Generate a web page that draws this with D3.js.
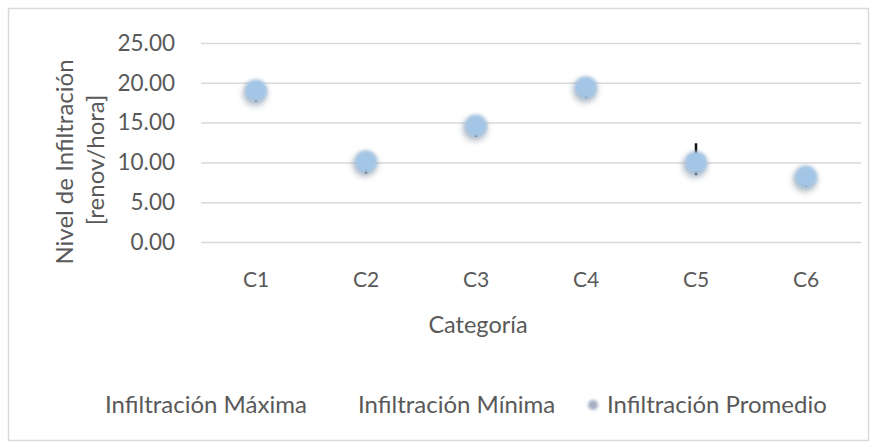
<!DOCTYPE html>
<html>
<head>
<meta charset="utf-8">
<script src="https://cdn.jsdelivr.net/npm/d3@7"></script>
<style>
  html, body { margin: 0; padding: 0; background: #fff; }
  svg { display: block; }
  text { font-family: Lato, "Open Sans", sans-serif; fill: #595959; }
</style>
</head>
<body>
<script>
// Infiltration levels per category: maximum, minimum and average (renov/hora)
const categories = ["C1", "C2", "C3", "C4", "C5", "C6"];
const maxValues  = [19.9, 10.9, 15.3, 20.3, 12.4, 8.9];
const minValues  = [17.6, 8.6, 13.2, 18.1, 8.4, 6.9];
const avgValues  = [19.0, 10.1, 14.6, 19.4, 10.0, 8.2];
const yTicks     = [0, 5, 10, 15, 20, 25];
const seriesNames = ["Infiltración Máxima", "Infiltración Mínima", "Infiltración Promedio"];

const W = 877, H = 444;
const plot = { left: 201, right: 861, top: 43, bottom: 242 };

const svg = d3.select("body").append("svg").attr("width", W).attr("height", H);

const defs = svg.append("defs");
const soft = defs.append("filter").attr("id", "soft")
  .attr("x", "-60%").attr("y", "-60%").attr("width", "220%").attr("height", "220%");
soft.append("feGaussianBlur").attr("stdDeviation", 1.8);
const shadow = defs.append("filter").attr("id", "shadow")
  .attr("x", "-80%").attr("y", "-80%").attr("width", "260%").attr("height", "260%");
shadow.append("feGaussianBlur").attr("stdDeviation", 3);

// chart frame
svg.append("rect")
  .attr("x", 8.5).attr("y", 8.5).attr("width", 860).attr("height", 432)
  .attr("fill", "#fff").attr("stroke", "#d9d9d9").attr("stroke-width", 1.5);

const x = d3.scaleBand().domain(categories).range([plot.left, plot.right]);
const y = d3.scaleLinear().domain([0, 25]).range([plot.bottom, plot.top]);

// horizontal gridlines + value labels
const yAxis = d3.axisLeft(y).tickValues(yTicks).tickFormat(d3.format(".2f"))
  .tickSize(-(plot.right - plot.left)).tickPadding(26);
const gy = svg.append("g").attr("transform", `translate(${plot.left},0)`).call(yAxis);
gy.select(".domain").remove();
gy.selectAll(".tick line").attr("stroke", "#d9d9d9").attr("stroke-width", 1.5);
gy.selectAll(".tick text").attr("font-size", 22.5).style("fill", "#595959")
  .attr("font-family", "Lato, sans-serif");

// category labels
const xAxis = d3.axisBottom(x).tickSize(0).tickPadding(30);
const gx = svg.append("g").attr("transform", `translate(0,${plot.bottom})`).call(xAxis);
gx.select(".domain").remove();
gx.selectAll(".tick text").attr("font-size", 21).style("fill", "#595959")
  .attr("font-family", "Lato, sans-serif");

// axis titles
svg.append("text")
  .attr("transform", "translate(73,162) rotate(-90)")
  .attr("text-anchor", "middle").attr("font-size", 24)
  .text("Nivel de Infiltración");
svg.append("text")
  .attr("transform", "translate(104,160) rotate(-90)")
  .attr("text-anchor", "middle").attr("font-size", 24)
  .text("[renov/hora]");
svg.append("text")
  .attr("x", 478).attr("y", 333)
  .attr("text-anchor", "middle").attr("font-size", 23.5)
  .text("Categoría");

// high-low lines
const cx = c => x(c) + x.bandwidth() / 2;
svg.append("g").selectAll("line").data(categories).join("line")
  .attr("x1", c => cx(c)).attr("x2", c => cx(c))
  .attr("y1", (c, i) => y(maxValues[i])).attr("y2", (c, i) => y(minValues[i]))
  .attr("stroke", "#111").attr("stroke-width", 2.5);

// average markers with soft shadow
svg.append("g").selectAll("circle").data(categories).join("circle")
  .attr("cx", c => cx(c) - 1).attr("cy", (c, i) => y(avgValues[i]) + 3)
  .attr("r", 12).attr("fill", "#7d8b9c").attr("opacity", 0.6)
  .attr("filter", "url(#shadow)");
svg.append("g").selectAll("circle").data(categories).join("circle")
  .attr("cx", c => cx(c)).attr("cy", (c, i) => y(avgValues[i]))
  .attr("r", 11).attr("fill", "#a4c6e6")
  .attr("filter", "url(#soft)");

// legend
const legendY = 413;
svg.append("text").attr("x", 105).attr("y", legendY).attr("font-size", 24).text(seriesNames[0]);
svg.append("text").attr("x", 358).attr("y", legendY).attr("font-size", 24).text(seriesNames[1]);
svg.append("circle").attr("cx", 593).attr("cy", legendY - 8).attr("r", 5)
  .attr("fill", "#a3aec4").attr("filter", "url(#soft)");
svg.append("text").attr("x", 607).attr("y", legendY).attr("font-size", 24).text(seriesNames[2]);
</script>
</body>
</html>
